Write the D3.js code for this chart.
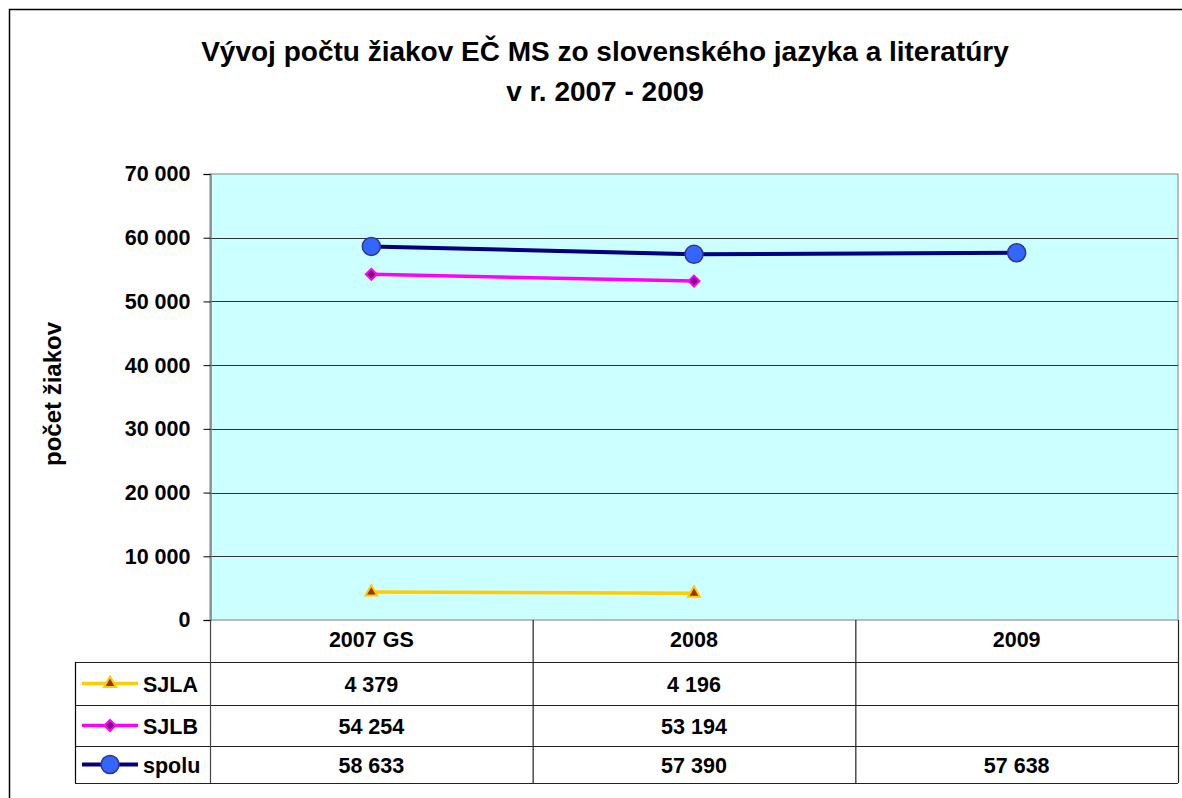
<!DOCTYPE html>
<html><head><meta charset="utf-8">
<script src="https://cdn.jsdelivr.net/npm/d3@7"></script>
<style>body{margin:0;background:#fff}svg{display:block;font-family:"Liberation Sans",Arial,sans-serif}</style>
</head><body>
<svg id="c" width="1182" height="798"></svg>
<script>
const categories = ["2007 GS", "2008", "2009"];
const seriesNames = ["SJLA", "SJLB", "spolu"];
const sjla = [4379, 4196, null];
const sjlb = [54254, 53194, null];
const spolu = [58633, 57390, 57638];
const yTicks = [0, 10000, 20000, 30000, 40000, 50000, 60000, 70000];
const titleLines = ["Vývoj počtu žiakov EČ MS zo slovenského jazyka a literatúry", "v r. 2007 - 2009"];
const yTitle = "počet žiakov";

const svg = d3.select("#c");
const L = 210, R = 1178, T = 174, B = 620;
const FS = 21.5;
const x = d3.scaleBand().domain(categories).range([L, R]);
const y = d3.scaleLinear().domain([0, 70000]).range([B, T]);
const fmt = v => v == null ? "" : d3.format(",")(v).replace(/,/g, " ");

// outer border
svg.append("rect").attr("x", 9.5).attr("y", 9.5).attr("width", 1200).attr("height", 900)
  .attr("fill", "#fff").attr("stroke", "#000").attr("stroke-width", 1.5);

// title
svg.selectAll("text.title").data(titleLines).join("text")
  .attr("x", 605).attr("y", (d, i) => 61 + i * 40).attr("text-anchor", "middle")
  .attr("font-size", 28).attr("font-weight", "bold").text(d => d);

// plot area
svg.append("rect").attr("x", L).attr("y", T).attr("width", R - L).attr("height", B - T)
  .attr("fill", "#CCFFFF").attr("stroke", "#808080").attr("stroke-width", 1);

// gridlines
svg.append("g").selectAll("line").data(yTicks.filter(d => d > 0 && d < 70000)).join("line")
  .attr("x1", L).attr("x2", R).attr("y1", d => Math.round(y(d)) + 0.5).attr("y2", d => Math.round(y(d)) + 0.5)
  .attr("stroke", "#333").attr("stroke-width", 1);

// y axis
const yAxis = d3.axisLeft(y).tickValues(yTicks).tickFormat(d => fmt(d)).tickSize(7).tickPadding(13);
const ga = svg.append("g").attr("transform", `translate(${L + 0.5},0)`).call(yAxis);
ga.select(".domain").attr("stroke", "#808080").attr("stroke-width", 1.5);
ga.selectAll(".tick line").attr("stroke", "#000");
ga.selectAll(".tick text").attr("font-size", FS).attr("font-weight", "bold")
  .attr("font-family", "Liberation Sans, Arial, sans-serif").attr("fill", "#000");

svg.append("text").attr("transform", "translate(61,394) rotate(-90)").attr("text-anchor", "middle")
  .attr("font-size", 24).attr("font-weight", "bold").text(yTitle);

// series
const series = [
  {name: seriesNames[0], values: sjla, color: "#FFCC00", width: 3.5, marker: "triangle", fill: "#993300"},
  {name: seriesNames[1], values: sjlb, color: "#FF00FF", width: 3.5, marker: "diamond", fill: "#800080"},
  {name: seriesNames[2], values: spolu, color: "#000080", width: 4, marker: "circle", fill: "#3366FF"}
];
const cx = c => x(c) + x.bandwidth() / 2;
const symbolFor = s => s.marker === "triangle" ? d3.symbol(d3.symbolTriangle, 62)
  : s.marker === "diamond" ? d3.symbol(d3.symbolSquare, 60) : d3.symbol(d3.symbolCircle, 254);
const rot = s => s.marker === "diamond" ? " rotate(45)" : "";
const strokeFor = s => s.marker === "circle" ? "#333399" : s.color;

series.forEach(s => {
  const pts = categories.map((c, i) => ({c, v: s.values[i]})).filter(d => d.v != null);
  svg.append("path").datum(pts)
    .attr("d", d3.line().x(d => cx(d.c)).y(d => y(d.v)))
    .attr("fill", "none").attr("stroke", s.color).attr("stroke-width", s.width);
  svg.append("g").selectAll("path").data(pts).join("path")
    .attr("transform", d => `translate(${cx(d.c)},${y(d.v)})` + rot(s))
    .attr("d", symbolFor(s)).attr("fill", s.fill).attr("stroke", strokeFor(s)).attr("stroke-width", s.marker === "circle" ? 1.5 : 2);
});

// data table
const tL = 75, rows = [620, 662, 705, 746, 783];
const tg = svg.append("g");
const line = (x1, y1, x2, y2, c) => tg.append("line").attr("x1", x1).attr("y1", y1).attr("x2", x2).attr("y2", y2)
  .attr("stroke", c || "#000").attr("stroke-width", 1.2);
rows.slice(1).forEach(r => line(tL, r + 0.5, R, r + 0.5, "#222"));
line(tL + 0.5, rows[1], tL + 0.5, rows[4]);
line(L + 0.5, B, L + 0.5, rows[4], "#444");
categories.forEach(c => line(x(c) + x.bandwidth() + 0.5, B, x(c) + x.bandwidth() + 0.5, rows[4], "#222"));

tg.selectAll("text.cat").data(categories).join("text")
  .attr("x", d => cx(d)).attr("y", 647).attr("text-anchor", "middle")
  .attr("font-size", FS).attr("font-weight", "bold").text(d => d);

series.forEach((s, si) => {
  const ym = (rows[si + 1] + rows[si + 2]) / 2;
  tg.append("line").attr("x1", 82).attr("x2", 138).attr("y1", ym).attr("y2", ym)
    .attr("stroke", s.color).attr("stroke-width", s.width);
  tg.append("path").attr("transform", `translate(110,${ym})` + rot(s)).attr("d", symbolFor(s))
    .attr("fill", s.fill).attr("stroke", strokeFor(s)).attr("stroke-width", s.marker === "circle" ? 1.5 : 2);
  tg.append("text").attr("x", 143).attr("y", ym + 8).attr("font-size", FS).attr("font-weight", "bold").text(s.name);
  categories.forEach((c, i) => {
    tg.append("text").attr("x", cx(c)).attr("y", ym + 8).attr("text-anchor", "middle")
      .attr("font-size", FS).attr("font-weight", "bold").text(fmt(s.values[i]));
  });
});
</script>
</body></html>
